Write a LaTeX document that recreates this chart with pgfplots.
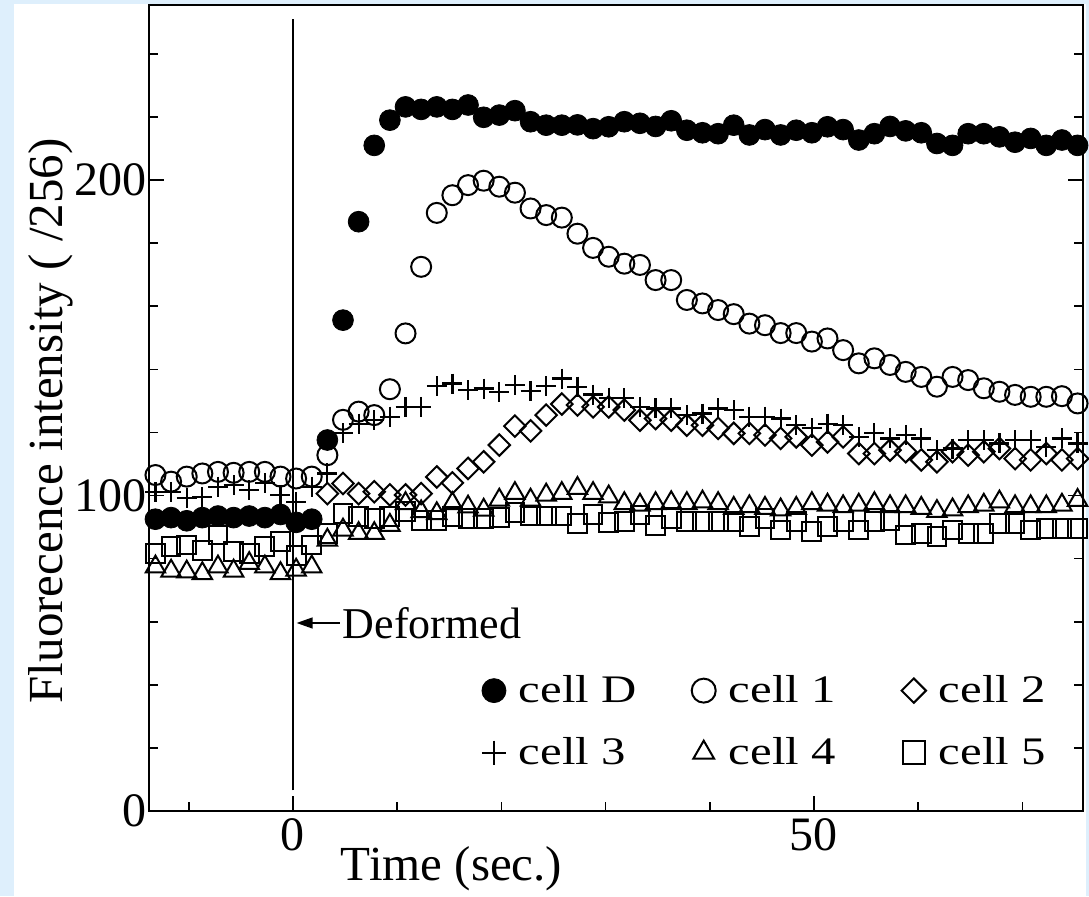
\documentclass[border=0pt]{standalone}
\usepackage{fontspec}
\setmainfont{Liberation Serif}
\newfontfamily\legendfont[FakeStretch=1.25]{Liberation Serif}
\usepackage{pgfplots}
\usepackage{pgfplotstable}
\pgfplotsset{compat=1.18}
\usetikzlibrary{arrows.meta}
\definecolor{slideblue}{RGB}{222,239,252}

% time (s), intensity (/256)
\pgfplotstableread{
t v
-13.2 92.5
-11.7 93
-10.2 92
-8.7 93
-7.2 93.5
-5.7 93
-4.2 93.5
-2.7 93
-1.2 94
0.3 91.5
1.8 92.5
3.3 117.6
4.8 155.6
6.3 186.8
7.8 211
9.3 219
10.8 223.2
12.3 222.4
13.8 223.2
15.3 222.4
16.8 223.8
18.3 219.9
19.8 220.6
21.3 222
22.8 218.5
24.3 217.4
25.8 217.4
27.3 217.5
28.8 216.3
30.3 216.9
31.8 218.5
33.3 218
34.8 217
36.3 218.8
37.8 215.8
39.3 215
40.8 214.7
42.3 217.4
43.8 214.3
45.3 216
46.8 214.3
48.3 215.8
49.8 215
51.3 216.9
52.8 216
54.3 212.7
55.8 214.7
57.3 217
58.8 215.6
60.3 215
61.8 211.6
63.3 211
64.8 214.7
66.3 214.7
67.8 213.7
69.3 212
70.8 213.2
72.3 211
73.8 212.7
75.3 211
}\cellD

\pgfplotstableread{
t v
-13.2 106.5
-11.7 104.4
-10.2 106
-8.7 107
-7.2 107.5
-5.7 107.2
-4.2 107.5
-2.7 107.5
-1.2 106
0.3 105.4
1.8 106
3.3 112.8
4.8 124
6.3 126.6
7.8 125.5
9.3 133.7
10.8 151.4
12.3 172.5
13.8 189.6
15.3 195.2
16.8 198.4
18.3 199.8
19.8 197.9
21.3 196
22.8 191
24.3 188.9
25.8 188.1
27.3 183
28.8 178.5
30.3 175.7
31.8 173.5
33.3 173.1
34.8 168.3
36.3 168.3
37.8 162
39.3 160.9
40.8 158.8
42.3 157.5
43.8 154.5
45.3 154
46.8 151.5
48.3 151.5
49.8 148.8
51.3 149.8
52.8 146.1
54.3 141.9
55.8 143.5
57.3 141.4
58.8 139.2
60.3 137.6
61.8 134.5
63.3 137.6
64.8 136.6
66.3 134
67.8 132.9
69.3 131.9
70.8 131.3
72.3 131.3
73.8 131.5
75.3 129.2
}\cellA

\pgfplotstableread{
t v
3.3 100.6
4.8 103.8
6.3 100.6
7.8 101.2
9.3 100.2
10.8 100.2
12.3 100.6
13.8 105.9
15.3 104
16.8 108.6
18.3 110.7
19.8 116
21.3 122
22.8 120.5
24.3 125.5
25.8 129
27.3 128.7
28.8 128.1
30.3 128.1
31.8 127.1
33.3 123.9
34.8 124.4
36.3 123.9
37.8 122.3
39.3 122.3
40.8 121.3
42.3 119.7
43.8 119.7
45.3 119.2
46.8 118.1
48.3 118.6
49.8 116
51.3 117
52.8 118.6
54.3 113.3
55.8 113.3
57.3 114.4
58.8 113.9
60.3 111.3
61.8 110.7
63.3 113.9
64.8 112.8
66.3 113.9
67.8 114.9
69.3 111.7
70.8 111.3
72.3 113.3
73.8 111.3
75.3 111.7
}\cellB

\pgfplotstableread{
t v
-13.2 101.2
-11.7 101.2
-10.2 99.1
-8.7 99.6
-7.2 102.8
-5.7 103.3
-4.2 101.7
-2.7 103.9
-1.2 100.2
0.3 98
1.8 102.8
3.3 107
4.8 119.7
6.3 122.8
7.8 123.9
9.3 125
10.8 128.1
12.3 128.1
13.8 134.7
15.3 135.5
16.8 133.4
18.3 133.9
19.8 132.9
21.3 135
22.8 133.2
24.3 134.7
25.8 137.1
27.3 134.5
28.8 132
30.3 131
31.8 130.8
33.3 128.1
34.8 127.6
36.3 127.6
37.8 125.5
39.3 126
40.8 127.6
42.3 127.1
43.8 125
45.3 125
46.8 124.4
48.3 122.3
49.8 121.3
51.3 122.8
52.8 122.3
54.3 118.6
55.8 119.7
57.3 118.1
58.8 119.2
60.3 118.1
61.8 114.4
63.3 114.9
64.8 117.6
66.3 117.6
67.8 116.5
69.3 117.6
70.8 117.6
72.3 115.4
73.8 118.1
75.3 116.5
}\cellC

\pgfplotstableread{
t v
-13.2 77.4
-11.7 76.1
-10.2 75.8
-8.7 75.3
-7.2 77.4
-5.7 76.1
-4.2 78.5
-2.7 77.4
-1.2 75.3
0.3 76.4
1.8 77.4
3.3 85.9
4.8 89.1
6.3 88
7.8 88
9.3 90.6
10.8 97.5
12.3 94.9
13.8 94.3
15.3 97.5
16.8 96.4
18.3 95.4
19.8 98.6
21.3 100.7
22.8 98.6
24.3 100.2
25.8 100.7
27.3 102.3
28.8 100.7
30.3 99.6
31.8 97.5
33.3 97
34.8 97.5
36.3 97.8
37.8 97.5
39.3 98
40.8 97.5
42.3 96
43.8 96.5
45.3 96
46.8 95.5
48.3 96
49.8 97.5
51.3 97
52.8 96.5
54.3 97
55.8 97.5
57.3 96.5
58.8 96.5
60.3 96
61.8 95
63.3 95.5
64.8 96.5
66.3 97
67.8 98
69.3 96.5
70.8 96.5
72.3 96.5
73.8 97
75.3 98.5
}\cellE

\pgfplotstableread{
t v
-13.2 81.7
-11.7 83.8
-10.2 84.3
-8.7 82.7
-7.2 87.5
-5.7 82.2
-4.2 81.7
-2.7 83.8
-1.2 85.4
0.3 81.1
1.8 84.3
3.3 88
4.8 94.3
6.3 93.3
7.8 92.7
9.3 93.3
10.8 94.9
12.3 92.2
13.8 92.2
15.3 93.3
16.8 92.7
18.3 92.7
19.8 93
21.3 94.6
22.8 93.5
24.3 93.5
25.8 93.5
27.3 91.2
28.8 94
30.3 91.5
31.8 91.7
33.3 93.8
34.8 90.6
36.3 92.7
37.8 91.7
39.3 91.7
40.8 91.7
42.3 91.7
43.8 90.1
45.3 92.7
46.8 89.1
48.3 91.7
49.8 88.5
51.3 90.1
52.8 91.7
54.3 89.1
55.8 91.7
57.3 92.2
58.8 87.5
60.3 88
61.8 86.9
63.3 89.1
64.8 88
66.3 88
67.8 91.2
69.3 91.2
70.8 89.1
72.3 89.5
73.8 89.5
75.3 89.5
}\cellF

\begin{document}
\begin{tikzpicture}
\fill[slideblue] (0,0) rectangle (544.5pt,448pt);
\fill[white] (7pt,0) rectangle (543pt,446pt);
\begin{axis}[
  at={(74.5pt,42.5pt)}, anchor=south west,
  scale only axis, width=467pt, height=403pt,
  xmin=-13.82, xmax=75.82, ymin=0, ymax=255.5,
  axis line style={line width=1pt},
  xtick={0,50}, minor xtick={-10,10,20,30,40,60,70},
  ytick={0,100,200}, minor ytick={20,40,60,80,120,140,160,180,220,240},
  tick align=inside, xtick pos=left, ytick pos=both,
  major tick length=7.5pt, minor tick length=4.5pt,
  tick style={line width=0.8pt, black},
  /pgf/number format/assume math mode=true,
  ticklabel style={font=\fontsize{24}{28}\selectfont},
  xticklabel style={inner sep=0pt, yshift=-3.5pt},
  yticklabel style={inner sep=0pt, xshift=-1pt},
  xlabel={Time (sec.)},
  ylabel={Fluorecence intensity ( /256)},
  label style={font=\fontsize{24.5}{28}\selectfont},
  xlabel style={at={(axis description cs:0.324,-0.071)}, anchor=center},
  ylabel style={at={(axis description cs:-0.105,0.484)}, anchor=center},
  legend columns=3, legend cell align=left,
  legend image code/.code={\draw[mark repeat=2,mark phase=2,#1] plot coordinates {(0pt,0pt) (6pt,0pt) (12pt,0pt)};},
  legend style={draw=none, fill=none, inner sep=0pt, outer sep=0pt,
    at={(0.3565,0.168)}, anchor=north west,
    font=\fontsize{19.5}{22}\legendfont,
    row sep=16pt, column sep=0pt, nodes={inner sep=0pt},
    /tikz/every odd column/.append style={column sep=6.5pt},
    /tikz/column 2/.append style={column sep=27.5pt},
    /tikz/column 4/.append style={column sep=33pt}},
]
\addplot[black, line width=0.7pt, forget plot] coordinates {(0,6.5) (0,251)};

\addplot[only marks, mark=*, mark size=5.2pt, black, mark options={fill=black},
  legend image post style={mark size=6pt}] table {\cellD};
\addlegendentry{cell D}
\addplot[only marks, mark=o, mark size=5pt, black, line width=1pt,
  legend image post style={mark size=6pt}] table {\cellA};
\addlegendentry{cell 1}
\addplot[only marks, mark=square, mark size=3.8pt, black, line width=1pt, mark options={rotate=45},
  legend image post style={mark size=4.3pt}] table {\cellB};
\addlegendentry{cell 2}
\addplot[only marks, mark=+, mark size=5pt, black, line width=1.1pt,
  legend image post style={mark size=6pt}] table {\cellC};
\addlegendentry{cell 3}
\addplot[only marks, mark=triangle, mark size=5.6pt, black, line width=1pt,
  legend image post style={mark size=6pt}] table {\cellE};
\addlegendentry{cell 4}
\addplot[only marks, mark=square, mark size=4.7pt, black, line width=1pt,
  legend image post style={mark size=5.6pt}] table {\cellF};
\addlegendentry{cell 5}

\draw[line width=0.7pt, -{Triangle[length=8pt,width=5.5pt]}] (axis cs:4.5,59.6) -- (axis cs:0.35,59.6);
\node[anchor=west, inner sep=0pt, font=\fontsize{22}{26}\selectfont] at (axis cs:4.75,59.6) {Deformed};
\end{axis}
\pgfresetboundingbox
\useasboundingbox (0,0) rectangle (544.5pt,448pt);
\end{tikzpicture}
\end{document}
